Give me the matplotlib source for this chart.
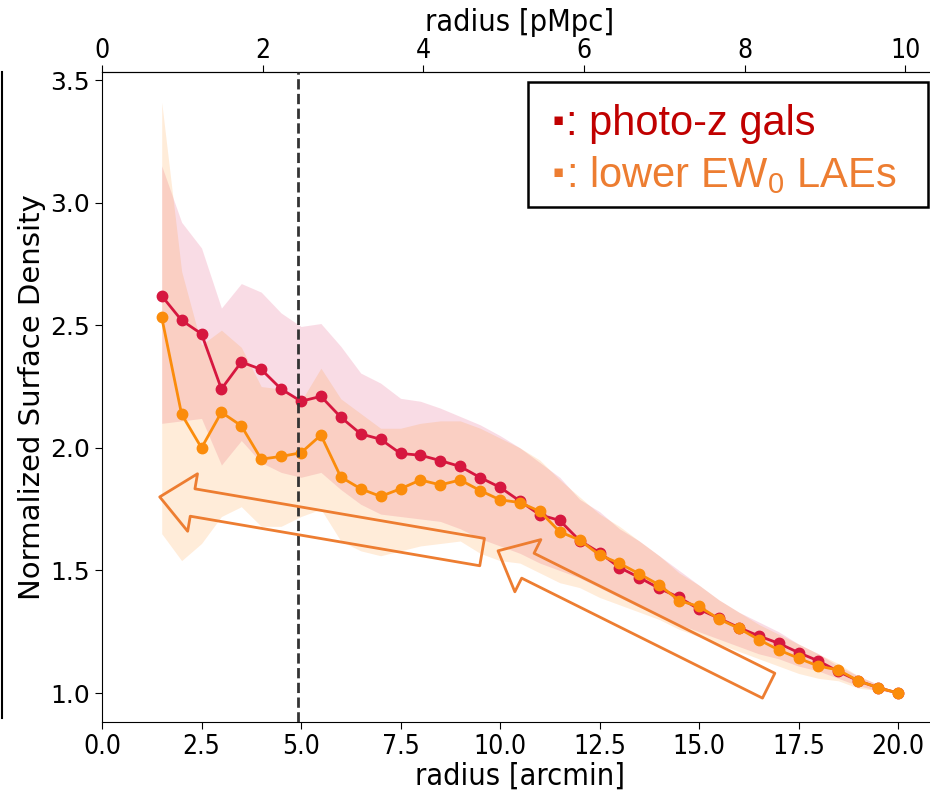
import matplotlib
matplotlib.use("Agg")
import matplotlib.pyplot as plt
import numpy as np
from matplotlib.patches import FancyArrowPatch, Rectangle
from matplotlib.lines import Line2D

# radius bins [arcmin]
radius = np.arange(1.5, 20.01, 0.5)

# photo-z galaxies
photz = [2.62, 2.52, 2.465, 2.24, 2.35, 2.32, 2.24, 2.19, 2.21, 2.125, 2.057, 2.035,
         1.977, 1.97, 1.948, 1.924, 1.879, 1.839, 1.783, 1.727, 1.704, 1.622, 1.573,
         1.512, 1.471, 1.427, 1.39, 1.342, 1.305, 1.267, 1.233, 1.203, 1.165, 1.131,
         1.088, 1.05, 1.022, 1.0]
photz_hi = [3.15, 2.92, 2.815, 2.57, 2.67, 2.635, 2.55, 2.495, 2.507, 2.414, 2.305, 2.264,
            2.202, 2.19, 2.162, 2.128, 2.094, 2.05, 2.0, 1.94, 1.88, 1.79, 1.74, 1.67,
            1.62, 1.56, 1.50, 1.44, 1.38, 1.33, 1.29, 1.25, 1.20, 1.16, 1.11, 1.07, 1.035, 1.0]
photz_lo = [2.10, 2.11, 2.12, 1.93, 2.03, 1.94, 1.90, 1.88, 1.90, 1.83, 1.77, 1.73,
            1.72, 1.71, 1.70, 1.67, 1.63, 1.60, 1.57, 1.53, 1.50, 1.47, 1.43, 1.39,
            1.35, 1.32, 1.28, 1.25, 1.22, 1.19, 1.16, 1.14, 1.11, 1.09, 1.06, 1.03, 1.01, 1.0]

# lower EW0 LAEs
lae = [2.532, 2.137, 2.0, 2.145, 2.09, 1.954, 1.965, 1.98, 2.052, 1.881, 1.833, 1.802,
       1.833, 1.869, 1.849, 1.869, 1.826, 1.788, 1.777, 1.741, 1.658, 1.624, 1.563,
       1.529, 1.486, 1.441, 1.377, 1.353, 1.302, 1.264, 1.218, 1.176, 1.142, 1.11,
       1.094, 1.05, 1.022, 1.0]
lae_hi = [3.41, 2.72, 2.42, 2.48, 2.41, 2.25, 2.24, 2.19, 2.325, 2.20, 2.14, 2.08,
          2.08, 2.10, 2.11, 2.11, 2.08, 2.04, 2.00, 1.95, 1.87, 1.80, 1.73, 1.68,
          1.62, 1.56, 1.49, 1.44, 1.38, 1.33, 1.28, 1.24, 1.20, 1.16, 1.12, 1.07, 1.035, 1.0]
lae_lo = [1.65, 1.54, 1.61, 1.72, 1.76, 1.68, 1.68, 1.72, 1.75, 1.62, 1.58, 1.56,
          1.58, 1.60, 1.61, 1.62, 1.57, 1.54, 1.53, 1.49, 1.45, 1.43, 1.39, 1.36,
          1.33, 1.30, 1.26, 1.23, 1.20, 1.17, 1.14, 1.11, 1.08, 1.06, 1.05, 1.02, 1.01, 1.0]

r_cut = 4.92          # dashed reference radius [arcmin]
arcmin_per_pmpc = 2.018

red = "#d6173f"
orange = "#fb8c0b"

plt.rcParams["mathtext.fontset"] = "custom"
plt.rcParams["mathtext.rm"] = "Liberation Sans"

fig = plt.figure(figsize=(9.3, 7.9), dpi=100)
ax = fig.add_axes([0.1097, 0.0861, 0.8987, 0.8228])

ax.fill_between(radius, photz_lo, photz_hi, color="#e0306a", alpha=0.17, lw=0)
ax.fill_between(radius, lae_lo, lae_hi, color="#ff9020", alpha=0.17, lw=0)
ax.plot(radius, photz, "-o", color=red, lw=2, ms=7.5, zorder=3)
ax.plot(radius, lae, "-o", color=orange, lw=2, ms=7.5, zorder=4)
ax.axvline(r_cut, color="#333333", ls="--", lw=2, zorder=5)

ax.set_xlim(0, 21)
ax.set_ylim(0.882, 3.533)
ax.set_xticks(np.arange(0, 20.1, 2.5))
ax.set_yticks(np.arange(1.0, 3.51, 0.5))
ax.tick_params(axis="y", labelsize=18, length=5)
ax.tick_params(axis="x", labelsize=19, length=5, pad=4)
for lab in ax.get_xticklabels():
    lab.set_fontstretch("condensed")
ax.set_xlabel("radius [arcmin]", fontsize=22, fontstretch="condensed", labelpad=1)
ax.set_ylabel("Normalized Surface Density", fontsize=21, labelpad=3)

top = ax.secondary_xaxis("top", functions=(lambda a: a / arcmin_per_pmpc,
                                           lambda p: p * arcmin_per_pmpc))
top.set_xticks(np.arange(0, 10.1, 2))
top.tick_params(labelsize=19, length=5, pad=1)
for lab in top.get_xticklabels():
    lab.set_fontstretch("condensed")
top.set_xlabel("radius [pMpc]", fontsize=22, fontstretch="condensed", labelpad=5)

# hollow block arrows drawn on top of the figure
arrow_style = "simple,head_length=24,head_width=42,tail_width=20"
for start, end in [((9.55, 1.575), (1.45, 1.80)), ((16.75, 1.03), (9.95, 1.58))]:
    arr = FancyArrowPatch(start, end, arrowstyle=arrow_style, mutation_scale=1,
                          fill=False, edgecolor="#ed7d31", lw=2, zorder=6,
                          shrinkA=0, shrinkB=0)
    ax.add_patch(arr)

# legend box
fig.patches.append(Rectangle((528 / 930, 1 - 207 / 790), 400 / 930, 125 / 790,
                             transform=fig.transFigure, fill=False,
                             edgecolor="black", lw=1.8, zorder=10))
fam = ["Liberation Sans", "DejaVu Sans"]
rows = [("photo-z gals", "#c00000", 135), ("lower EW$_0$ LAEs", "#ed7d31", 187)]
for label, col, base in rows:
    fig.text(553 / 930, 1 - (base - 10) / 790, "\u25aa", color=col, fontsize=12,
             family="DejaVu Sans", va="baseline")
    fig.text(566 / 930, 1 - base / 790, ": " + label, color=col, fontsize=30,
             family=fam, va="baseline")

# edge line at left of the picture
fig.add_artist(Line2D([2 / 930, 2 / 930], [1 - 718 / 790, 1 - 72 / 790],
                      transform=fig.transFigure, color="black", lw=1.5))

fig.savefig("out.png", dpi=100)
